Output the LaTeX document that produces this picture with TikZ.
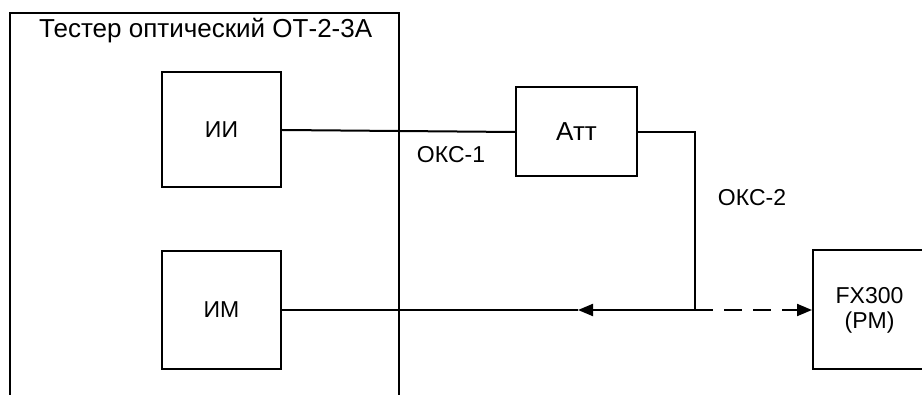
\documentclass[tikz,border=0pt]{standalone}
\usepackage{fontspec}
\setmainfont{Liberation Sans}
\usetikzlibrary{arrows.meta}
\begin{document}
\begin{tikzpicture}[x=1pt,y=-1pt,
  blk/.style={draw,line width=2pt,inner sep=0pt,font=\fontsize{23}{25}\selectfont},
  wire/.style={line width=2pt},
  lbl/.style={inner sep=0pt,font=\fontsize{23}{25}\selectfont},
  tip/.style={-{Triangle[length=15pt,width=12pt]}}]
\useasboundingbox (0,0) rectangle (922,395);
\clip (0,0) rectangle (922,395);
% outer tester frame (open at bottom)
\coordinate (fbl) at (10,400);
\coordinate (ftl) at (10,13);
\coordinate (ftr) at (399,13);
\coordinate (fbr) at (399,400);
\draw[line width=1.8pt] (fbl) -- (ftl) -- (ftr) -- (fbr);
\node[inner sep=0pt,anchor=base west,font=\fontsize{26}{28}\selectfont] (title) at (39,38) {Тестер оптический ОТ-2-3А};
% blocks
\node[blk,minimum width=119pt,minimum height=115pt] (ii) at (221.5,130) {ИИ};
\node[blk,minimum width=119pt,minimum height=118pt] (im) at (221.5,310) {ИМ};
\node[blk,minimum width=121pt,minimum height=89pt,font=\fontsize{26}{28}\selectfont] (att) at (576.5,132) {Атт};
\node[blk,minimum width=113pt,minimum height=119pt,align=center] (fx) at (869.5,310) {FX300\\(PM)};
% connectors
\draw[wire] (ii.east) -- (att.west);
\coordinate (j) at (695,310);
\coordinate (m) at (578,310);
\draw[wire] (att.east) -| (j);
\draw[wire,tip] (j) -- (m);
\draw[wire] (m) -- (im.east);
\draw[wire,tip,dash pattern=on 18pt off 11pt] (j) -- (fx.west);
% labels
\node[lbl] (oks1) at (451,155) {ОКС-1};
\node[lbl] (oks2) at (752,198) {ОКС-2};
\end{tikzpicture}
\end{document}
